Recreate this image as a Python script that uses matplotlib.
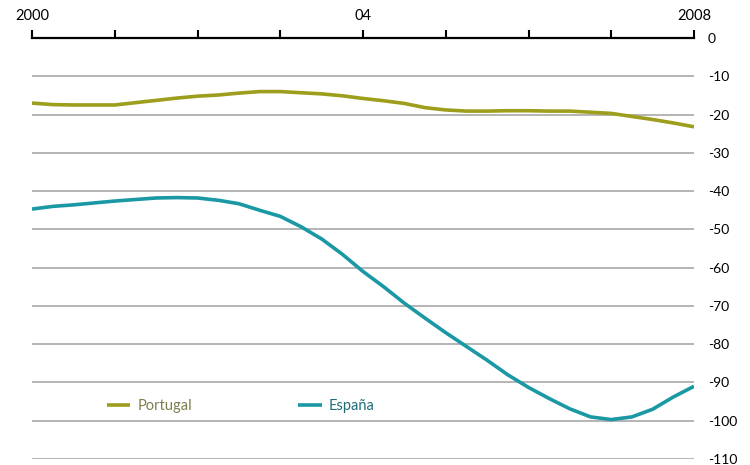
import numpy as np
from matplotlib import pyplot as plt

# Datos (trimestral aprox.)
years = [2000.0, 2000.25, 2000.5, 2000.75, 2001.0, 2001.25, 2001.5, 2001.75,
         2002.0, 2002.25, 2002.5, 2002.75, 2003.0, 2003.25, 2003.5, 2003.75,
         2004.0, 2004.25, 2004.5, 2004.75, 2005.0, 2005.25, 2005.5, 2005.75,
         2006.0, 2006.25, 2006.5, 2006.75, 2007.0, 2007.25, 2007.5, 2007.75, 2008.0]

portugal = [-17.0, -17.4, -17.5, -17.5, -17.5, -16.9, -16.3, -15.7,
            -15.2, -14.9, -14.4, -14.0, -14.0, -14.3, -14.6, -15.1,
            -15.8, -16.4, -17.1, -18.2, -18.8, -19.1, -19.1, -19.0,
            -19.0, -19.1, -19.1, -19.4, -19.7, -20.5, -21.3, -22.2, -23.2]

espana = [-44.7, -44.0, -43.6, -43.1, -42.6, -42.2, -41.8, -41.7,
          -41.8, -42.4, -43.3, -45.0, -46.6, -49.3, -52.5, -56.5,
          -61.0, -65.0, -69.3, -73.2, -77.0, -80.6, -84.2, -88.0,
          -91.3, -94.2, -96.9, -99.0, -99.7, -99.0, -97.0, -93.8, -91.0]

tick_years = np.arange(2000, 2009)
tick_labels = ["2000", "", "", "", "04", "", "", "", "2008"]
yticks = np.arange(0, -111, -10)

col_pt = "#9c9e1c"
col_es = "#1a98a4"

plt.rcParams['font.family'] = ['Lato', 'DejaVu Sans']

fig = plt.figure(figsize=(7.5, 4.65), dpi=100)
ax = fig.add_axes([32/750, 1-459/465, (694-32)/750, (459-38)/465])

ax.plot(years, portugal, color=col_pt, linewidth=2.6, label="Portugal", solid_capstyle='butt')
ax.plot(years, espana, color=col_es, linewidth=2.6, label="España", solid_capstyle='butt')

ax.set_xlim(2000, 2008)
ax.set_ylim(-110, 0)

# eje x arriba
ax.xaxis.tick_top()
ax.set_xticks(tick_years)
ax.set_xticklabels(tick_labels)
ax.tick_params(axis='x', direction='out', length=6, width=1.5, color='black',
               pad=5, labelsize=10.5)

# eje y a la derecha
ax.yaxis.tick_right()
ax.set_yticks(yticks)
ax.set_yticklabels([str(v) for v in yticks])
ax.tick_params(axis='y', length=0, pad=10, labelsize=10)
for lab in ax.get_yticklabels():
    lab.set_horizontalalignment('left')

for v in yticks[1:]:
    ax.axhline(v, color='#a8a8a8', linewidth=1.2, zorder=0)

for s in ['left', 'right', 'bottom']:
    ax.spines[s].set_visible(False)
ax.spines['top'].set_linewidth(1.6)
ax.spines['top'].set_color('black')

leg = ax.legend(loc='center left', bbox_to_anchor=(0.093, 0.125), ncol=2, frameon=False,
                handlelength=1.6, handletextpad=0.5, columnspacing=7.3, fontsize=10.5)
leg.get_texts()[0].set_color('#7d7d4e')
leg.get_texts()[1].set_color('#1f6e76')

plt.savefig("out.png", dpi=100)
